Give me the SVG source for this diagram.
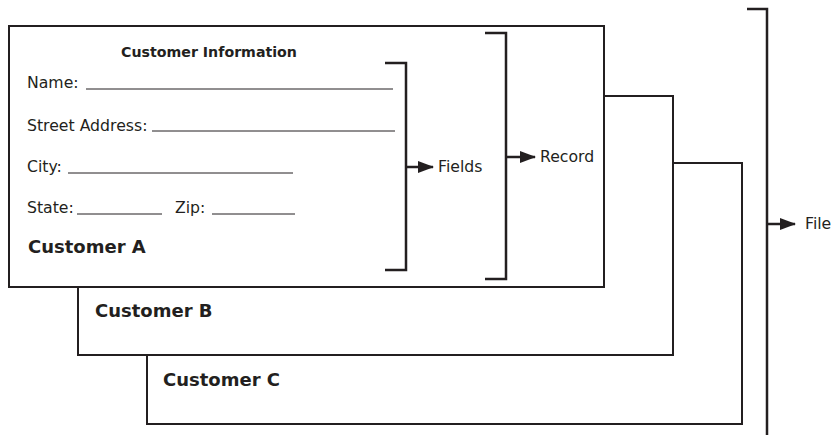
<svg xmlns="http://www.w3.org/2000/svg" width="831" height="435" viewBox="0 0 831 435">
<defs>
<style>
.box{fill:#fff;stroke:#231f20;stroke-width:2}
.br{fill:none;stroke:#231f20;stroke-width:2.5}
.ln{stroke:#231f20;stroke-width:1}
.t{font-family:"DejaVu Sans","Liberation Sans",sans-serif;font-size:15.7px;fill:#231f20}
.b{font-family:"DejaVu Sans","Liberation Sans",sans-serif;font-weight:bold;fill:#231f20}
</style>
<marker id="ah" markerWidth="16" markerHeight="12" refX="15" refY="6" orient="auto" markerUnits="userSpaceOnUse">
<path d="M0,0 L16,6 L0,12 Z" fill="#231f20"/>
</marker>
</defs>
<g id="customerC">
<rect class="box" x="147" y="163" width="595" height="261"/>
<text class="b" x="163" y="386" font-size="18">Customer C</text>
</g>
<g id="customerB">
<rect class="box" x="78" y="96" width="595" height="259"/>
<text class="b" x="95" y="317" font-size="18">Customer B</text>
</g>
<g id="customerA">
<rect class="box" x="9" y="26" width="595" height="261"/>
<text class="b" x="209" y="57" font-size="14.2" text-anchor="middle">Customer Information</text>
<text class="t" x="27" y="88">Name:</text>
<line class="ln" x1="86" y1="89" x2="393" y2="89"/>
<text class="t" x="27" y="131">Street Address:</text>
<line class="ln" x1="152" y1="131" x2="395" y2="131"/>
<text class="t" x="27" y="172">City:</text>
<line class="ln" x1="68" y1="173" x2="293" y2="173"/>
<text class="t" x="27" y="213">State:</text>
<line class="ln" x1="77" y1="214" x2="162" y2="214"/>
<text class="t" x="175" y="213">Zip:</text>
<line class="ln" x1="212" y1="214" x2="295" y2="214"/>
<text class="b" x="28" y="253" font-size="18">Customer A</text>
</g>
<g id="connectors">
<path class="br" d="M385,63 H406 V270 H385"/>
<line class="br" x1="406" y1="167" x2="433" y2="167" marker-end="url(#ah)"/>
<path class="br" d="M485,33 H506 V279 H485"/>
<line class="br" x1="506" y1="157" x2="535" y2="157" marker-end="url(#ah)"/>
<path class="br" d="M747,9 H767 V436"/>
<line class="br" x1="767" y1="224" x2="795" y2="224" marker-end="url(#ah)"/>
</g>
<g id="labels">
<text class="t" x="438" y="172" font-size="16.3">Fields</text>
<text class="t" x="540" y="162" font-size="16.3">Record</text>
<text class="t" x="805" y="229" font-size="16.3">File</text>
</g>
</svg>
